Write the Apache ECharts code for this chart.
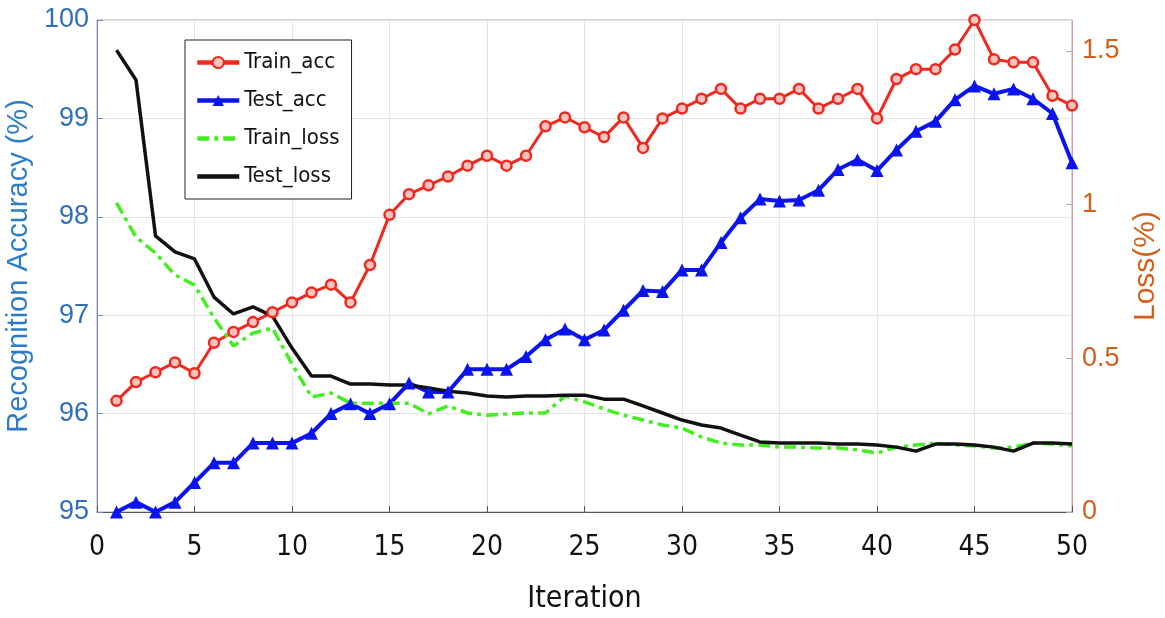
<!DOCTYPE html>
<html>
<head>
<meta charset="utf-8">
<script src="https://cdn.jsdelivr.net/npm/echarts@6/dist/echarts.min.js"></script>
<style>html,body{margin:0;padding:0;background:#fff;}#c{width:1165px;height:618px;}</style>
</head>
<body>
<div id="c"></div>
<script>
const iterations = Array.from({length: 50}, (_, i) => i + 1);
const trainAcc = [96.13,96.32,96.42,96.52,96.41,96.72,96.83,96.93,97.03,97.13,97.23,97.31,97.13,97.51,98.02,98.23,98.32,98.41,98.52,98.62,98.52,98.62,98.92,99.01,98.91,98.81,99.01,98.70,99.0,99.1,99.2,99.3,99.1,99.2,99.2,99.3,99.1,99.2,99.3,99.0,99.4,99.5,99.5,99.7,100.0,99.6,99.57,99.57,99.23,99.13];
const testAcc = [95.0,95.1,95.0,95.1,95.3,95.5,95.5,95.7,95.7,95.7,95.8,96.0,96.1,96.0,96.1,96.31,96.22,96.22,96.45,96.45,96.45,96.58,96.75,96.86,96.75,96.85,97.05,97.25,97.24,97.46,97.46,97.74,97.99,98.18,98.16,98.17,98.27,98.48,98.58,98.47,98.68,98.87,98.97,99.19,99.33,99.25,99.30,99.20,99.05,98.55];
const trainLoss = [1.005,0.894,0.842,0.771,0.738,0.631,0.540,0.582,0.598,0.481,0.374,0.387,0.354,0.354,0.354,0.354,0.319,0.345,0.322,0.315,0.319,0.322,0.322,0.377,0.358,0.335,0.315,0.299,0.283,0.273,0.244,0.224,0.218,0.218,0.211,0.211,0.208,0.208,0.202,0.192,0.211,0.218,0.224,0.218,0.215,0.208,0.211,0.224,0.221,0.215];
const testLoss = [1.502,1.405,0.898,0.846,0.823,0.699,0.644,0.667,0.637,0.533,0.442,0.442,0.416,0.416,0.413,0.413,0.403,0.393,0.387,0.377,0.374,0.377,0.377,0.380,0.380,0.367,0.367,0.345,0.322,0.299,0.283,0.273,0.250,0.228,0.224,0.224,0.224,0.221,0.221,0.218,0.211,0.198,0.221,0.221,0.218,0.211,0.198,0.224,0.224,0.221];
const xTicks = {min: 0, max: 50, interval: 5};
const leftTicks = {min: 95, max: 100, interval: 1};
const rightTicks = {min: 0, max: 1.6, interval: 0.5};

const pair = arr => arr.map((v, i) => [iterations[i], v]);
const narrow = '"DejaVu Sans Condensed", "Liberation Sans Narrow", "Liberation Sans", sans-serif';
const sans = '"Liberation Sans", Arial, sans-serif';
const hiddenSymbol = {color: 'rgba(0,0,0,0)', borderColor: 'rgba(0,0,0,0)', borderWidth: 0, opacity: 0};

const chart = echarts.init(document.getElementById('c'));
chart.setOption({
  animation: false,
  backgroundColor: '#fff',
  grid: {left: 97, right: 93, top: 20, bottom: 106, show: true, borderColor: '#aaa', borderWidth: 1,
         containLabel: false, outerBoundsMode: 'none'},
  legend: {
    orient: 'vertical', left: 185, top: 40,
    backgroundColor: '#fff', borderColor: '#222', borderWidth: 1,
    padding: [11, 12, 11, 10],
    itemWidth: 42, itemHeight: 14, itemGap: 15,
    lineStyle: {width: 4.5},
    textStyle: {fontFamily: narrow, fontSize: 22, color: '#111', lineHeight: 23},
    data: [
      {name: 'Train_acc'},
      {name: 'Test_acc'},
      {name: 'Train_loss', itemStyle: hiddenSymbol},
      {name: 'Test_loss', itemStyle: hiddenSymbol}
    ]
  },
  xAxis: {
    type: 'value', min: xTicks.min, max: xTicks.max, interval: xTicks.interval,
    name: 'Iteration', nameLocation: 'middle', nameGap: 72,
    nameTextStyle: {fontFamily: narrow, fontSize: 30, color: '#111'},
    axisLine: {show: true, lineStyle: {color: '#555', width: 1}},
    axisTick: {show: true, inside: true, length: 6, lineStyle: {color: '#555'}},
    axisLabel: {fontFamily: narrow, fontSize: 28, color: '#111', margin: 22},
    splitLine: {show: true, lineStyle: {color: '#e4e4e4', width: 1}}
  },
  yAxis: [{
    type: 'value', position: 'left', min: leftTicks.min, max: leftTicks.max, interval: leftTicks.interval,
    name: 'Recognition Accuracy (%)', nameLocation: 'middle', nameGap: 64,
    nameTextStyle: {fontFamily: sans, fontSize: 29, color: '#2f7cc6'},
    axisLine: {show: true, lineStyle: {color: '#6f86c0', width: 1}},
    axisTick: {show: true, inside: true, length: 6, lineStyle: {color: '#6f86c0'}},
    axisLabel: {fontFamily: sans, fontSize: 27, color: '#2f6fb8', margin: 8},
    splitLine: {show: true, lineStyle: {color: '#e4e4e4', width: 1}}
  }, {
    type: 'value', position: 'right', min: rightTicks.min, max: rightTicks.max, interval: rightTicks.interval,
    name: 'Loss(%)', nameLocation: 'middle', nameGap: 58,
    nameTextStyle: {fontFamily: sans, fontSize: 30, color: '#d2601a'},
    axisLine: {show: true, lineStyle: {color: '#e39a9a', width: 1}},
    axisTick: {show: true, inside: true, length: 6, lineStyle: {color: '#c9a0a0'}},
    axisLabel: {fontFamily: sans, fontSize: 27, color: '#d2601a', margin: 10, showMaxLabel: false},
    splitLine: {show: false}
  }],
  series: [{
    name: 'Train_acc', type: 'line', yAxisIndex: 0, data: pair(trainAcc),
    symbol: 'circle', symbolSize: 10,
    lineStyle: {color: '#f0281e', width: 3},
    itemStyle: {color: '#f9c4bf', borderColor: '#f0281e', borderWidth: 2.5}
  }, {
    name: 'Test_acc', type: 'line', yAxisIndex: 0, data: pair(testAcc),
    symbol: 'triangle', symbolSize: 13,
    lineStyle: {color: '#0a14ee', width: 4},
    itemStyle: {color: '#0a14ee'}
  }, {
    name: 'Train_loss', type: 'line', yAxisIndex: 1, data: pair(trainLoss),
    symbol: 'none',
    lineStyle: {color: '#44ee22', width: 3.5, type: [12, 5, 4, 5]},
    itemStyle: {color: '#44ee22'}
  }, {
    name: 'Test_loss', type: 'line', yAxisIndex: 1, data: pair(testLoss),
    symbol: 'none',
    lineStyle: {color: '#111', width: 3.5},
    itemStyle: {color: '#111'}
  }]
});
</script>
</body>
</html>
